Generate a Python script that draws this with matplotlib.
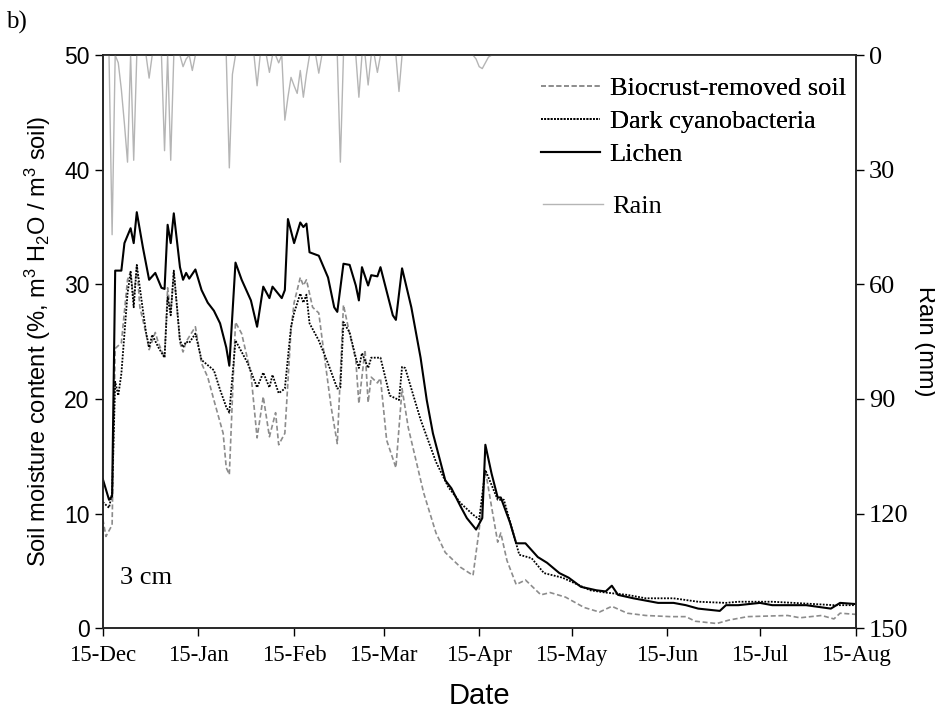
import numpy as np
import matplotlib
matplotlib.use('Agg')
import matplotlib.pyplot as plt
import matplotlib.dates as mdates

plt.rcParams['mathtext.fontset'] = 'custom'
plt.rcParams['mathtext.rm'] = 'Liberation Sans'
plt.rcParams['mathtext.it'] = 'Liberation Sans:italic'

serif = 'Liberation Serif'
sans = 'Liberation Sans'

start = np.datetime64('2011-12-15')

# soil moisture (%): day offset from 15-Dec, value
lichen_day = [0, 2, 3, 4, 6, 7, 9, 10, 11, 13, 15, 17, 19, 20, 21, 22, 23, 25, 26, 27,
              28, 30, 32, 34, 36, 38, 40, 41, 43, 45, 48, 50, 52, 54, 55, 58, 59, 60, 62, 64,
              65, 66, 67, 70, 73, 75, 76, 78, 80, 82, 83, 84, 86, 87, 89, 90, 94, 95, 97, 100,
              103, 105, 107, 111, 113, 116, 118, 121, 123, 124, 126, 128, 129, 132, 134, 137, 141, 144, 148, 151,
              155, 160, 163, 165, 167, 172, 176, 180, 185, 189, 193, 200, 202, 206, 213, 217, 223, 228, 236, 239,
              244]
lichen = [13.0, 11.2, 11.5, 31.2, 31.2, 33.6, 34.9, 33.6, 36.3, 33.2, 30.4, 31.0, 29.7, 29.6, 35.2, 33.6, 36.2, 31.5, 30.4, 31.0,
          30.5, 31.3, 29.5, 28.4, 27.7, 26.6, 24.5, 22.9, 31.9, 30.4, 28.6, 26.3, 29.8, 28.8, 29.8, 28.8, 29.5, 35.7, 33.6, 35.4,
          35.0, 35.3, 32.8, 32.5, 30.6, 28.0, 27.6, 31.8, 31.7, 29.9, 28.6, 31.5, 29.9, 30.8, 30.7, 31.5, 27.3, 26.9, 31.4, 28.0,
          23.6, 19.9, 17.0, 12.9, 12.2, 10.6, 9.6, 8.6, 9.6, 16.0, 13.5, 11.4, 11.4, 9.2, 7.4, 7.4, 6.2, 5.7, 4.8, 4.4,
          3.6, 3.3, 3.2, 3.7, 2.9, 2.6, 2.4, 2.2, 2.2, 2.0, 1.7, 1.5, 2.0, 2.0, 2.2, 2.0, 2.0, 2.0, 1.7, 2.2,
          2.1]

cyano_day = [0, 2, 3, 4, 5, 6, 8, 9, 10, 11, 13, 14, 15, 16, 18, 20, 21, 22, 23, 25,
             26, 27, 28, 30, 32, 36, 38, 40, 41, 43, 47, 50, 52, 54, 55, 57, 59, 61, 62, 64,
             65, 66, 67, 70, 73, 76, 77, 78, 80, 82, 83, 84, 86, 87, 90, 93, 96, 97, 98, 103,
             108, 112, 116, 120, 122, 124, 128, 130, 135, 139, 143, 149, 158, 163, 170, 176, 185, 193, 202, 206,
             217, 224, 237, 244]
cyano = [11.0, 10.5, 11.8, 21.5, 20.3, 22.2, 29.2, 31.1, 28.0, 31.7, 27.7, 25.8, 24.5, 25.6, 24.5, 23.6, 28.9, 27.3, 31.2, 25.1,
         24.5, 25.0, 24.9, 25.7, 23.4, 22.5, 20.8, 19.3, 18.8, 25.1, 23.1, 21.0, 22.3, 21.0, 22.1, 20.5, 20.9, 26.3, 27.5, 29.2,
         28.4, 29.1, 26.6, 25.1, 23.1, 20.9, 21.0, 26.7, 25.8, 23.6, 22.7, 24.0, 22.7, 23.6, 23.6, 20.3, 19.9, 22.8, 22.7, 18.2,
         14.5, 12.3, 10.9, 9.9, 9.5, 13.8, 11.2, 11.2, 6.4, 6.1, 4.8, 4.4, 3.3, 3.1, 2.9, 2.6, 2.6, 2.3, 2.2, 2.3,
         2.3, 2.2, 2.0, 2.0]

bare_day = [0, 1, 3, 4, 6, 8, 9, 10, 11, 12, 14, 15, 17, 18, 20, 21, 22, 23, 25, 26,
            27, 30, 32, 34, 36, 39, 40, 41, 43, 45, 48, 50, 52, 54, 56, 57, 59, 61, 62, 64,
            65, 66, 68, 70, 71, 74, 76, 78, 80, 82, 83, 85, 86, 87, 89, 90, 92, 95, 97, 99,
            104, 108, 111, 116, 120, 122, 124, 126, 128, 129, 131, 134, 137, 142, 145, 150, 156, 161, 165, 170,
            176, 184, 189, 192, 199, 203, 209, 222, 226, 233, 237, 239, 244]
bare = [9.5, 8.0, 9.0, 24.4, 24.9, 30.4, 31.1, 28.6, 31.7, 28.0, 25.7, 24.3, 25.8, 24.9, 23.6, 29.7, 27.5, 31.1, 24.9, 24.1,
        25.0, 26.3, 23.1, 21.9, 19.9, 17.0, 14.0, 13.4, 26.7, 25.7, 22.2, 16.6, 20.2, 16.7, 18.8, 16.0, 17.0, 26.0, 28.4, 30.6,
        29.9, 30.4, 28.0, 27.5, 25.4, 19.3, 16.1, 28.2, 25.7, 23.4, 19.6, 24.3, 19.7, 21.9, 21.4, 21.8, 16.4, 14.0, 20.9, 17.5,
        11.8, 8.3, 6.6, 5.3, 4.6, 8.6, 13.8, 10.6, 7.5, 8.3, 5.9, 3.8, 4.2, 2.9, 3.1, 2.7, 1.8, 1.4, 1.9, 1.3,
        1.1, 1.0, 1.0, 0.6, 0.4, 0.7, 1.0, 1.1, 0.9, 1.1, 0.8, 1.3, 1.2]

# daily rain (mm); days not listed had no rain
rain_day = [3, 5, 6, 7, 8, 10, 15, 20, 22, 26, 27, 29, 41, 42, 50, 54, 57, 59, 60, 61,
            62, 63, 64, 65, 66, 70, 77, 83, 86, 89, 96, 121, 122, 123, 124, 125]
rain_mm = [47, 2, 9, 18, 28, 27.5, 6, 25, 27.5, 3, 1, 4, 29.5, 5, 8, 4.5, 2, 17, 11, 5.8,
           8, 10, 4, 11, 5, 4.7, 28, 11, 7.8, 4.5, 9.5, 1, 3, 3.5, 2, 0.5]

n_days = 245
rain = np.zeros(n_days)
rain[rain_day] = rain_mm
days_all = start + np.arange(n_days)

fig = plt.figure(figsize=(9.35, 7.17), dpi=100)
ax = fig.add_axes([0.110, 0.124, 0.805, 0.799])
ax2 = ax.twinx()

l_bare, = ax.plot(start + np.array(bare_day), bare, color='#8c8c8c', lw=1.2,
                  dashes=(3, 1.6), label='Biocrust-removed soil')
l_cyano, = ax.plot(start + np.array(cyano_day), cyano, color='black', lw=1.3,
                   dashes=(1, 0.8), label='Dark cyanobacteria')
l_lichen, = ax.plot(start + np.array(lichen_day), lichen, color='black', lw=1.5,
                    label='Lichen')
l_rain, = ax2.plot(days_all, rain, color='#b5b5b5', lw=1.0, label='Rain')

ax.set_xlim(start, start + 244)
ax.set_ylim(0, 50)
ax.set_yticks([0, 10, 20, 30, 40, 50])
ax2.set_ylim(150, 0)
ax2.set_yticks([0, 30, 60, 90, 120, 150])

ax.xaxis.set_major_locator(mdates.MonthLocator(bymonthday=15))
ax.xaxis.set_major_formatter(mdates.DateFormatter('%d-%b'))

for a in (ax, ax2):
    a.tick_params(direction='out', length=6, width=1)
    for s in a.spines.values():
        s.set_linewidth(1.1)
        s.set_color('#222222')
ax.tick_params(axis='x', labelsize=16.5, pad=6)
ax.tick_params(axis='y', labelsize=16.5)
ax2.tick_params(axis='y', labelsize=19)
for lab in ax.get_xticklabels() + ax2.get_yticklabels():
    lab.set_family(serif)
for lab in ax.get_yticklabels():
    lab.set_family(sans)

ax.set_xlabel('Date', family=sans, fontsize=21, labelpad=12)
ax.set_ylabel('Soil moisture content (%, m$^3$ H$_2$O / m$^3$ soil)',
              family=sans, fontsize=17, labelpad=8)
ax2.set_ylabel('Rain (mm)', family=sans, fontsize=17, rotation=270, labelpad=20)

leg1 = ax.legend(handles=[l_bare, l_cyano, l_lichen], loc='upper left',
                 bbox_to_anchor=(0.582, 0.962), frameon=False, handlelength=2.25,
                 handletextpad=0.35, labelspacing=0.36, borderaxespad=0, borderpad=0,
                 prop={'family': serif, 'size': 19})
ax.add_artist(leg1)
ax2.legend(handles=[l_rain], loc='upper left', bbox_to_anchor=(0.585, 0.757),
           frameon=False, handlelength=2.25, handletextpad=0.35,
           borderaxespad=0, borderpad=0,
           prop={'family': serif, 'size': 19})

ax.text(0.023, 0.087, '3 cm', transform=ax.transAxes, family=serif, fontsize=19,
        va='center', ha='left')
fig.text(0.006, 0.968, 'b)', family=serif, fontsize=18, va='center', ha='left')

fig.savefig('out.png', dpi=100)
